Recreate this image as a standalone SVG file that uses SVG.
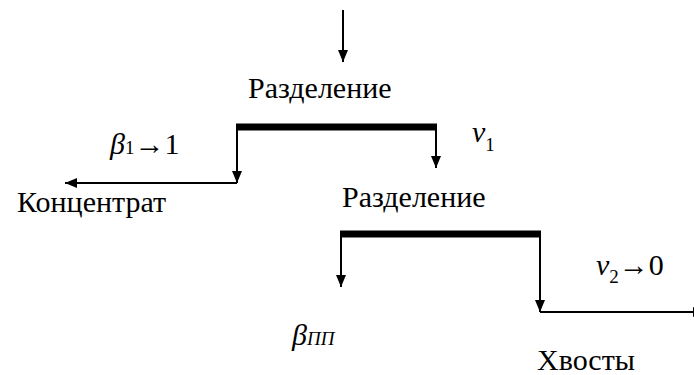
<svg xmlns="http://www.w3.org/2000/svg" width="694" height="375" viewBox="0 0 694 375">
<style>
.ln{stroke:#000;stroke-width:2;fill:none}
.bar{stroke:#000;stroke-width:7;fill:none}
</style>
<defs>
<marker id="ah" viewBox="0 0 12 10" refX="12" refY="5" markerWidth="12" markerHeight="10" markerUnits="userSpaceOnUse" orient="auto">
<path d="M0,0 L12,5 L0,10 Z" fill="#000"/>
</marker>
</defs>
<rect width="694" height="375" fill="#fff"/>
<g id="connectors">
<line class="ln" x1="343" y1="10" x2="343" y2="62" marker-end="url(#ah)"/>
<line class="ln" x1="237" y1="127" x2="237" y2="183" marker-end="url(#ah)"/>
<line class="ln" x1="436" y1="127" x2="436" y2="168" marker-end="url(#ah)"/>
<line class="ln" x1="237" y1="183" x2="65" y2="183" marker-end="url(#ah)"/>
<line class="ln" x1="341" y1="234" x2="341" y2="287" marker-end="url(#ah)"/>
<line class="ln" x1="540" y1="234" x2="540" y2="312" marker-end="url(#ah)"/>
<line class="ln" x1="540" y1="312" x2="705" y2="312" marker-end="url(#ah)"/>
</g>
<g font-size="30" fill="#000">
<g id="sep1">
<line class="bar" x1="236" y1="127" x2="437" y2="127"/>
<text x="248" y="98" font-family="'Liberation Serif', serif">Разделение</text>
</g>
<g id="sep2">
<line class="bar" x1="340" y1="234" x2="541" y2="234"/>
<text x="342" y="207" font-family="'Liberation Serif', serif">Разделение</text>
</g>
<g id="concentrate">
<text x="17" y="212" font-family="'Liberation Serif', serif">Концентрат</text>
<text x="110" y="154" font-family="'Liberation Serif', serif"><tspan font-style="italic">β</tspan><tspan font-size="19">1</tspan>→1</text>
</g>
<g id="v1label">
<text x="472" y="142" font-family="'Liberation Serif', serif"><tspan font-style="italic">v</tspan><tspan font-size="19" dy="9">1</tspan></text>
</g>
<g id="tails">
<text x="537" y="370" font-family="'Liberation Serif', serif">Хвосты</text>
<text x="596" y="275" font-family="'Liberation Serif', serif"><tspan font-style="italic">v</tspan><tspan font-size="19" dy="8">2</tspan><tspan dy="-8">→0</tspan></text>
</g>
<g id="bpp">
<text x="292" y="345" font-family="'Liberation Serif', serif" font-style="italic">β<tspan font-size="19">ПП</tspan></text>
</g>
</g>
</svg>
